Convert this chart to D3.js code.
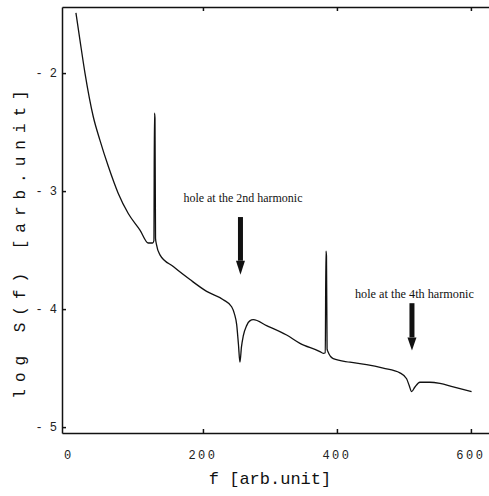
<!DOCTYPE html>
<html>
<head>
<meta charset="utf-8">
<script src="https://cdn.jsdelivr.net/npm/d3@7"></script>
<style>
  body { margin: 0; background: #fff; }
  svg { display: block; }
</style>
</head>
<body>
<div id="chart"></div>
<script>
// spectrum: f [arb.unit] vs log S(f)
const freq = [10.4, 16.4, 23.9, 36.3, 46.3, 58.7, 73.6, 88.5, 106, 118.4, 124.9,
  126.8, 127.6, 128.4, 129.2, 130.5, 135.8, 155.7, 180.6, 205.5, 230.3, 242.8,
  247, 250.3, 253, 255.2, 257.5, 260.1, 265.2, 270, 275.1, 295, 324.9, 344.8,
  374.6, 379.6, 382.6, 383.6, 384.4, 385.3, 386.5, 394.5, 419.4, 444.3, 469.1,
  494, 504, 508, 511.5, 516.4, 523.9, 538.8, 553.7, 573.6, 601];
const logS = [-1.49, -1.72, -2.00, -2.37, -2.57, -2.79, -3.02, -3.19, -3.33, -3.44, -3.44,
  -3.42, -2.34, -2.38, -3.40, -3.45, -3.54, -3.64, -3.75, -3.85, -3.92, -3.98,
  -4.04, -4.13, -4.30, -4.45, -4.32, -4.23, -4.14, -4.10, -4.09, -4.14, -4.22, -4.29,
  -4.36, -4.375, -4.37, -3.51, -3.55, -4.34, -4.36, -4.42, -4.45, -4.47, -4.50,
  -4.54, -4.59, -4.65, -4.70, -4.66, -4.62, -4.62, -4.63, -4.66, -4.70];

const xTicks = [200, 400, 600];
const xTickLabels = ['0', '200', '400', '600'];
const yTicks = [-2, -3, -4, -5];

const notes = [
    { f: 256, text: 'hole at the 2nd harmonic' },
    { f: 512, text: 'hole at the 4th harmonic' }
];

const width = 489, height = 496;

const svg = d3.select('#chart').append('svg')
    .attr('width', width)
    .attr('height', height);

const x = d3.scaleLinear().domain([-10.4, 627]).range([62, 489]);
const y = d3.scaleLinear().domain([-1.44, -5.05]).range([7, 433]);

// top frame with inward ticks
svg.append('g')
    .attr('transform', `translate(0,${y.range()[0]})`)
    .call(d3.axisTop(x).tickValues(xTicks).tickSizeInner(-4).tickSizeOuter(0).tickFormat(''))
    .call(g => g.selectAll('path, line').attr('stroke', '#111').attr('stroke-width', 1.5));

// bottom axis
svg.append('g')
    .attr('transform', `translate(0,${y.range()[1]})`)
    .call(d3.axisBottom(x).tickValues(xTicks).tickSizeInner(-4).tickSizeOuter(0).tickFormat(''))
    .call(g => g.selectAll('path, line').attr('stroke', '#111').attr('stroke-width', 1.5));

// x tick labels (0 has no tick mark)
svg.append('g').selectAll('text')
    .data(xTickLabels)
    .join('text')
    .attr('x', d => x(+d))
    .attr('y', 459)
    .attr('text-anchor', 'middle')
    .attr('font-family', '"Liberation Mono", monospace')
    .attr('font-size', 12)
    .attr('letter-spacing', '2.5px')
    .attr('fill', '#222')
    .text(d => d);

// left axis
svg.append('g')
    .attr('transform', `translate(${x.range()[0]},0)`)
    .call(d3.axisLeft(y).tickValues(yTicks).tickSizeInner(-4).tickSizeOuter(0).tickPadding(5)
        .tickFormat(d => '- ' + Math.abs(d)))
    .call(g => g.selectAll('path, line').attr('stroke', '#111').attr('stroke-width', 1.5))
    .call(g => g.selectAll('text')
        .attr('font-family', '"Liberation Mono", monospace')
        .attr('font-size', 12)
        .attr('fill', '#222'));

// axis titles
svg.append('text')
    .attr('x', 270)
    .attr('y', 484)
    .attr('text-anchor', 'middle')
    .attr('font-family', '"Liberation Mono", monospace')
    .attr('font-size', 17)
    .attr('fill', '#111')
    .text('f [arb.unit]');

svg.append('text')
    .attr('transform', 'translate(25,241) rotate(-90)')
    .attr('text-anchor', 'middle')
    .attr('font-family', '"Liberation Mono", monospace')
    .attr('font-size', 16)
    .attr('letter-spacing', '7px')
    .attr('fill', '#111')
    .text('log S(f) [arb.unit]');

// spectrum line
const line = d3.line()
    .x((d, i) => x(freq[i]))
    .y(d => y(d))
    .curve(d3.curveMonotoneX);

svg.append('path')
    .datum(logS)
    .attr('d', line)
    .attr('fill', 'none')
    .attr('stroke', '#111')
    .attr('stroke-width', 1.3);

// annotations: label, shaft and arrow head
const noteLevels = [
    { text: -3.09, top: -3.22, head: -3.59, tip: -3.71 },
    { text: -3.91, top: -3.95, head: -4.24, tip: -4.35 }
];

notes.forEach((n, i) => {
    const lv = noteLevels[i];
    const ax = x(n.f);
    svg.append('text')
        .attr('x', ax + 3 - 60)
        .attr('y', y(lv.text))
        .attr('font-family', '"Liberation Serif", serif')
        .attr('font-size', 12.5)
        .attr('textLength', 119)
        .attr('lengthAdjust', 'spacingAndGlyphs')
        .attr('fill', '#111')
        .text(n.text);
    svg.append('rect')
        .attr('x', ax - 2.5)
        .attr('y', y(lv.top))
        .attr('width', 5)
        .attr('height', y(lv.head) - y(lv.top))
        .attr('fill', '#111');
    svg.append('path')
        .attr('d', `M${ax - 4.5},${y(lv.head)} L${ax + 4.5},${y(lv.head)} L${ax},${y(lv.tip)} Z`)
        .attr('fill', '#111');
});
</script>
</body>
</html>
